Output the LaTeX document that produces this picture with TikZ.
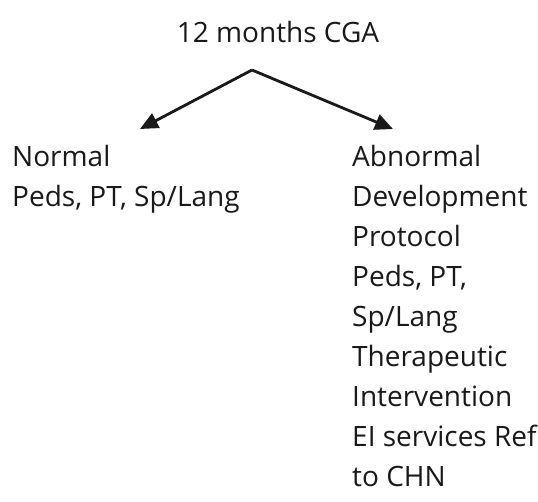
\documentclass[tikz,border=0pt]{standalone}
\usepackage{fontspec}
\setmainfont{Open Sans}
\usetikzlibrary{arrows.meta}
\begin{document}
\begin{tikzpicture}[x=1pt,y=-1pt,
  txt/.style={anchor=base west,inner sep=0pt,font=\fontsize{28}{32}\selectfont,text=black!90},
  ttl/.style={anchor=base,inner sep=0pt,font=\fontsize{28}{32}\selectfont,text=black!90},
  conn/.style={line width=2.8pt,-{Triangle[length=18pt,width=16pt]},draw=black!90}]
\useasboundingbox (0,0) rectangle (538,501);
\node[ttl] (top) at (278,42) {12 months CGA};
\coordinate (apex) at (252,70);
\coordinate (ltip) at (140,129);
\coordinate (rtip) at (393,129);
\draw[conn] (apex) -- (ltip);
\draw[conn] (apex) -- (rtip);
\node[txt] (n1) at (12,166) {Normal};
\node[txt] (n2) at (12,206) {Peds, PT, Sp/Lang};
\node[txt] (a1) at (352,166) {Abnormal};
\node[txt] (a2) at (352,206) {Development};
\node[txt] (a3) at (352,246) {Protocol};
\node[txt] (a4) at (352,286) {Peds, PT,};
\node[txt] (a5) at (352,326) {Sp/Lang};
\node[txt] (a6) at (352,366) {Therapeutic};
\node[txt] (a7) at (352,406) {Intervention};
\node[txt] (a8) at (352,446) {EI services Ref};
\node[txt] (a9) at (352,486) {to CHN};
\end{tikzpicture}
\end{document}
